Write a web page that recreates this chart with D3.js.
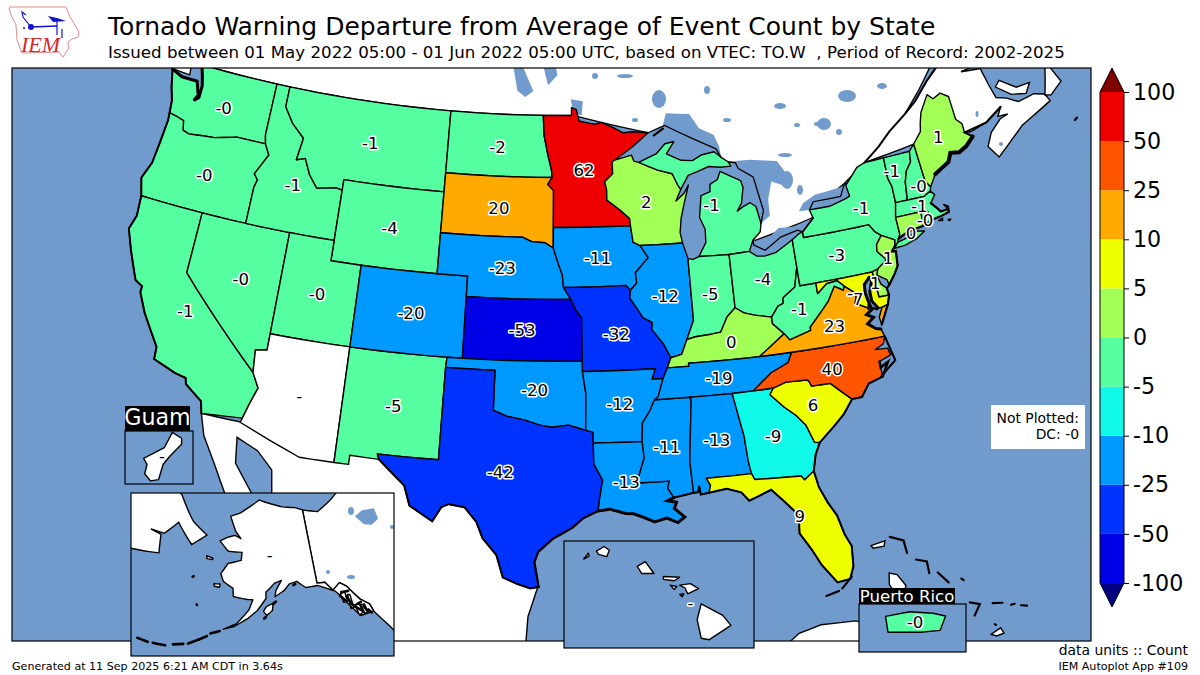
<!DOCTYPE html>
<html>
<head>
<meta charset="utf-8">
<script src="https://cdn.jsdelivr.net/npm/d3@7"></script>
<style>
html, body { margin: 0; padding: 0; background: #fff; }
svg { display: block; }
text { font-family: "DejaVu Sans", sans-serif; }
</style>
</head>
<body>
<div id="map"></div>
<script>
// values; null = no data (drawn white)
var stateCodes = ["WA","OR","CA","NV","ID","MT","WY","UT","AZ","NM","CO","ND","SD","NE","KS","OK","TX","MN","IA","MO","AR","LA","WI","IL","MS","MI","IN","OH","KY","WV","TN","AL","GA","FL","SC","NC","VA","PA","NY","VT","NH","ME","MA","RI","CT","NJ","DE","MD","DC","AK","HI","GU","PR"];
var stateValues = [-0.3,-0.3,-1,-0.3,-1,-1,-4,-0.3,null,-4.8,-20,-2,20,-23,-53,-20,-42,62,-11,-32,-12,-13,2,-12,-11,-1,-4.8,-4,0.3,-1,-19,-13,-9,9,6,40,23,-3,-1,-1,-0.3,1,-1,-0.3,0.3,1,1,7,null,null,null,null,-0.3];
var labelLon = [-120.4,-120.5,-119.5,-116.55,-114.45,-109.6,-107.5,-111.6,-111.65,-106,-105.5,-100.5,-100.2,-99.8,-98.4,-97.55,-99.45,-94.3,-93.5,-92.45,-92.4,-92.2,-90.05,-89.2,-89.75,-85.6,-86.3,-82.8,-85.3,-80.8,-86.3,-86.8,-83.5,-82.6,-80.9,-79.4,-78.8,-77.8,-75.6,-73,-71.5,-69.3,-71.8,-71.65,-72.75,-74.6,-75.75,-77,-77.45,-152.9,-156.3,144.78,-66.45];
var labelLat = [47.25,43.8,37.2,39.3,44.3,47,43,39.3,34.3,34.4,39,47.4,44.4,41.5,38.5,35.6,31.6,46.3,42,38.3,34.9,31.1,44.6,40,32.7,44.2,39.9,40.3,37.5,38.6,35.8,32.8,32.7,28.65,33.9,35.5,37.5,40.9,42.9,44.3,43.25,45.3,42.3,41.6,41.15,40.2,39.15,38.6,38.95,64.5,20.3,13.45,18.22];

// colour bar
var barTicks = ["-100","-50","-25","-10","-5","0","5","10","25","50","100"];
var barBounds = [-100,-50,-25,-10,-5,0,5,10,25,50,100];
var barColors = ["#00007f","#0000e6","#0033ff","#0099ff","#11f9e8","#55ffa1","#a1ff55","#eeff00","#ffaa00","#ff5500","#ee0000","#7f0000"];

// state outlines, lon,lat pairs, | starts another ring
var stateRings = {
WA:"-122.75,49 -117.03,49 -117.04,46.43 -116.9,46 -118.98,46 -119.3,45.93 -120.5,45.7 -121.2,45.65 -122.3,45.55 -122.75,45.65 -122.9,46.1 -123.4,46.2 -124,46.27 -124.1,46.9 -124.4,47.5 -124.72,48.38 -123.9,48.15 -122.75,48.15 -122.4,47.5 -122.6,47.2 -122.3,47.4 -122.3,48 -122.5,48.5",
OR:"-124,46.27 -123.4,46.2 -122.9,46.1 -122.75,45.65 -122.3,45.55 -121.2,45.65 -120.5,45.7 -119.3,45.93 -118.98,46 -116.9,46 -116.5,45.5 -117.2,44.45 -116.9,44.2 -117.03,43.8 -117.03,42 -124.2,42 -124.55,42.84 -124.15,43.7 -124.05,44.7 -123.95,45.9",
CA:"-124.2,42 -120,42 -120,39 -114.63,35 -114.15,34.3 -114.5,33.4 -114.72,32.72 -117.12,32.53 -117.3,33.1 -118.4,33.75 -118.5,34.03 -119.2,34.15 -120.6,34.55 -120.65,35.15 -121.9,36.6 -122.5,37.5 -122.5,37.8 -123,38 -123.8,39.3 -124.35,40.3 -124.1,41",
NV:"-120,42 -114.05,42 -114.05,36.2 -114.75,36.1 -114.63,35 -120,39",
ID:"-117.03,49 -116.05,49 -116.05,48 -115.3,47.25 -114.35,46.65 -114.55,45.55 -113.95,45.7 -113.45,44.95 -112.8,44.37 -111.5,44.55 -111.05,44.48 -111.05,42 -117.03,42 -117.03,43.8 -116.9,44.2 -117.2,44.45 -116.5,45.5 -116.9,46 -117.04,46.43",
MT:"-116.05,49 -104.05,49 -104.05,45 -111.05,45 -111.05,44.48 -111.5,44.55 -112.8,44.37 -113.45,44.95 -113.95,45.7 -114.55,45.55 -114.35,46.65 -115.3,47.25 -116.05,48",
WY:"-111.05,45 -104.05,45 -104.05,41 -111.05,41",
UT:"-114.05,42 -111.05,42 -111.05,41 -109.05,41 -109.05,37 -114.05,37",
AZ:"-114.05,37 -109.05,37 -109.05,31.33 -111.07,31.33 -114.8,32.5 -114.72,32.72 -114.5,33.4 -114.15,34.3 -114.63,35 -114.75,36.1 -114.05,36.2",
NM:"-109.05,37 -103,37 -103.04,36.5 -103.06,32 -106.62,32 -106.5,31.75 -108.2,31.78 -108.2,31.33 -109.05,31.33",
CO:"-109.05,41 -102.05,41 -102.05,37 -109.05,37",
ND:"-104.05,49 -97.23,49 -97.15,48 -96.85,47 -96.6,46.3 -96.56,45.94 -104.05,45.94",
SD:"-104.05,45.94 -96.56,45.94 -96.85,45.6 -96.45,45.3 -96.45,43.5 -96.45,42.5 -97,42.75 -97.9,42.8 -98.5,43 -104.05,43",
NE:"-104.05,43 -98.5,43 -97.9,42.8 -97,42.75 -96.45,42.5 -96.1,41.7 -95.85,41.2 -95.77,40.58 -95.3,40 -102.05,40 -102.05,41 -104.05,41",
KS:"-102.05,40 -95.3,40 -95,39.5 -94.62,39.1 -94.62,37 -102.05,37",
OK:"-103,37 -94.62,37 -94.62,36.5 -94.43,35.4 -94.48,33.64 -95.5,33.9 -96.5,33.8 -97.2,33.9 -98.1,34.13 -99.2,34.3 -100,34.56 -100,36.5 -103.04,36.5",
TX:"-103.04,36.5 -100,36.5 -100,34.56 -99.2,34.3 -98.1,34.13 -97.2,33.9 -96.5,33.8 -95.5,33.9 -94.48,33.64 -94.04,33.55 -94.04,33.02 -94.04,32 -93.55,31.2 -93.75,30.3 -93.85,29.7 -94.7,29.35 -95.3,28.9 -96.4,28.35 -97.2,27.7 -97.4,27.2 -97.15,25.97 -97.6,25.9 -98.3,26.1 -99.1,26.4 -99.5,27.5 -100.3,28.3 -100.7,29.1 -101.4,29.77 -102.3,29.87 -102.7,29.7 -103.15,28.98 -104.5,29.65 -104.9,30.6 -106.5,31.75 -106.62,32 -103.06,32",
MN:"-97.23,49 -95.15,49 -95.15,49.38 -94.8,49.3 -94.6,48.72 -93.5,48.55 -92.95,48.62 -92,48.3 -91.4,48.07 -90.75,48.1 -89.6,48 -90.9,47.3 -92.1,46.75 -92.29,46.66 -92.29,46.08 -92.87,45.7 -92.75,45.3 -92.76,44.8 -91.9,44.3 -91.25,43.85 -91.22,43.5 -96.45,43.5 -96.45,45.3 -96.85,45.6 -96.56,45.94 -96.6,46.3 -96.85,47 -97.15,48",
IA:"-96.45,43.5 -91.22,43.5 -91.1,42.7 -90.64,42.51 -90.15,41.9 -91.05,41.2 -91,40.7 -91.42,40.38 -91.73,40.61 -95.77,40.58 -95.85,41.2 -96.1,41.7 -96.45,42.5",
MO:"-95.77,40.58 -91.73,40.61 -91.42,40.38 -91.5,40 -90.7,39 -90.15,38.75 -90.2,38.4 -89.55,37.7 -89.13,36.98 -89.4,36.5 -89.7,36 -90.38,36 -90.15,36.5 -94.62,36.5 -94.62,39.1 -95,39.5 -95.3,40",
AR:"-94.62,36.5 -90.15,36.5 -90.38,36 -89.7,36 -90.07,35.13 -90.3,35 -90.6,34.5 -91.1,33.9 -91.17,33 -94.04,33.02 -94.04,33.55 -94.48,33.64 -94.43,35.4",
LA:"-94.04,33.02 -91.17,33 -91.1,32.2 -91.6,31 -89.73,31 -89.85,30.67 -89.53,30.18 -89.9,30.05 -89.4,29.95 -89.55,29.65 -89,29.2 -89.4,28.95 -90,29.2 -90.7,29.05 -91.3,29.3 -91.85,29.5 -92.3,29.53 -93.2,29.77 -93.85,29.7 -93.75,30.3 -93.55,31.2 -94.04,32",
WI:"-92.29,46.66 -92.1,46.75 -90.9,46.95 -90.75,46.65 -90.4,46.57 -89.1,46.13 -88.1,45.9 -87.8,45.35 -87.6,45.1 -88,44.55 -87.4,44.9 -87.05,45.28 -87.5,44.3 -87.75,43.7 -87.9,43 -87.8,42.49 -90.64,42.51 -91.1,42.7 -91.22,43.5 -91.25,43.85 -91.9,44.3 -92.76,44.8 -92.75,45.3 -92.87,45.7 -92.29,46.08",
IL:"-90.64,42.51 -87.8,42.49 -87.53,41.71 -87.53,38.7 -88.05,37.8 -88.45,37.1 -89.13,36.98 -89.55,37.7 -90.2,38.4 -90.15,38.75 -90.7,39 -91.5,40 -91.42,40.38 -91,40.7 -91.05,41.2 -90.15,41.9",
MS:"-90.3,35 -88.2,35 -88.1,34.9 -88.47,31.9 -88.4,30.35 -89.53,30.18 -89.85,30.67 -89.73,31 -91.6,31 -91.1,32.2 -91.17,33 -91.1,33.9 -90.6,34.5",
MI:"-86.8,41.76 -86.25,42.4 -86.2,43.05 -86.5,43.65 -86.25,44.7 -85.6,44.85 -85.55,45.2 -85,45.4 -84.75,45.78 -84.1,45.5 -83.4,45.2 -83.3,44.85 -83.55,44.1 -83.9,43.75 -83.4,43.95 -82.95,44.07 -82.6,43.85 -82.42,43 -82.55,42.6 -83.1,42.25 -83.45,41.73 -84.8,41.7|-90.4,46.57 -89.1,46.95 -88.45,47.4 -87.8,47.47 -88.4,46.9 -87.4,46.52 -86.6,46.45 -85.95,46.68 -85,46.77 -84.55,46.45 -84.1,46.2 -83.95,45.97 -84.7,45.98 -85.5,46.08 -86.3,45.9 -87,45.75 -87.6,45.1 -87.8,45.35 -88.1,45.9 -89.1,46.13",
IN:"-87.53,41.71 -87.2,41.65 -86.8,41.76 -84.8,41.7 -84.82,39.1 -85.4,38.7 -85.9,38 -86.5,37.95 -87.5,37.9 -88.05,37.8 -87.53,38.7",
OH:"-84.8,41.7 -83.45,41.73 -83,41.45 -82.5,41.4 -81.7,41.5 -80.52,41.98 -80.52,40.64 -80.85,39.7 -81.7,39.27 -81.75,39 -82.1,38.9 -82.6,38.42 -83.65,38.63 -84.3,38.8 -84.82,39.1",
KY:"-89.13,36.98 -88.45,37.1 -88.05,37.8 -87.5,37.9 -86.5,37.95 -85.9,38 -85.4,38.7 -84.82,39.1 -84.3,38.8 -83.65,38.63 -82.6,38.42 -82.6,38.1 -81.97,37.54 -83.68,36.6 -88.07,36.65 -88.07,36.5 -89.4,36.5",
WV:"-82.6,38.42 -82.1,38.9 -81.75,39 -81.7,39.27 -80.85,39.7 -80.52,40.64 -80.52,39.72 -79.48,39.72 -79.48,39.2 -78.8,39.6 -78.1,39.65 -77.72,39.32 -77.83,39.13 -78.35,39.4 -78.87,38.77 -79.3,38.42 -80.3,37.65 -80.3,37.5 -81.68,37.2 -81.97,37.54 -82.6,38.1",
TN:"-89.4,36.5 -88.07,36.5 -88.07,36.65 -83.68,36.6 -81.68,36.59 -82,36.12 -83.1,35.75 -84.32,34.99 -85.6,34.98 -88.2,35 -90.3,35 -90.07,35.13 -89.7,36",
AL:"-88.2,35 -85.6,34.98 -85.18,32.87 -85.1,31.6 -85,31 -87.6,31 -87.4,30.65 -87.52,30.28 -88,30.23 -88.05,30.65 -88.15,30.35 -88.4,30.35 -88.47,31.9 -88.1,34.9",
GA:"-85.6,34.98 -84.32,34.99 -83.1,35 -83.35,34.7 -82.6,34 -81.95,33.5 -81.5,33 -81.15,32.1 -80.85,32.05 -81.2,31.5 -81.45,30.72 -82.05,30.36 -82.2,30.57 -84.86,30.7 -85,31 -85.1,31.6 -85.18,32.87",
FL:"-87.6,31 -85,31 -84.86,30.7 -82.2,30.57 -82.05,30.36 -81.45,30.72 -81.3,29.9 -80.95,29.1 -80.55,28.4 -80.3,27.4 -80.03,26.8 -80.12,25.8 -80.4,25.2 -81.1,25.13 -81.8,26.1 -82.2,26.9 -82.75,27.8 -82.65,28.7 -83.4,29.5 -84,30.1 -85.3,29.7 -85.7,30.15 -86.5,30.4 -87.52,30.28 -87.4,30.65",
SC:"-83.1,35 -82.3,35.2 -81.04,35.15 -80.93,35.1 -80.8,34.82 -79.67,34.8 -78.55,33.86 -79.2,33.2 -79.9,32.7 -80.85,32.05 -81.15,32.1 -81.5,33 -81.95,33.5 -82.6,34 -83.35,34.7",
NC:"-81.68,36.59 -75.87,36.55 -76.05,36.2 -76.6,36 -75.85,35.95 -75.75,35.6 -76.5,35.4 -76.5,35.1 -76.5,34.65 -77.4,34.45 -77.95,33.87 -78.55,33.86 -79.67,34.8 -80.8,34.82 -80.93,35.1 -81.04,35.15 -82.3,35.2 -83.1,35 -84.32,34.99 -83.1,35.75 -82,36.12",
VA:"-83.68,36.6 -81.97,37.54 -81.68,37.2 -80.3,37.5 -80.3,37.65 -79.3,38.42 -78.87,38.77 -78.35,39.4 -77.83,39.13 -77.72,39.32 -77.05,38.85 -77.25,38.4 -76.3,37.95 -76.7,37.75 -76.3,37.55 -76.75,37.3 -76.3,37 -76,36.92 -75.87,36.55 -81.68,36.59|-75.65,37.95 -75.25,38.03 -75.9,37.12 -75.95,37.5",
PA:"-80.52,41.98 -80.07,42.2 -79.76,42.27 -79.76,42 -75.35,42 -75.05,41.6 -74.7,41.36 -75.13,40.97 -75.2,40.65 -74.72,40.15 -75.4,39.8 -75.79,39.72 -80.52,39.72",
NY:"-79.76,42.27 -78.9,42.85 -79.05,43.27 -77.6,43.27 -76.5,43.47 -76.2,43.55 -76.3,44.1 -75.3,44.85 -74.7,45 -73.35,45.01 -73.4,44 -73.25,43.55 -73.27,42.75 -73.5,42.05 -73.49,41.2 -73.65,41 -73.8,40.8 -74,40.7 -73.9,41 -74.7,41.36 -75.05,41.6 -75.35,42 -79.76,42|-74.03,40.6 -73.75,40.85 -73.1,40.95 -72.3,41.15 -71.87,41.07 -72.5,40.8 -73.3,40.63",
VT:"-73.35,45.01 -71.5,45.01 -71.6,44.5 -72.05,44.1 -72.3,43.6 -72.46,42.73 -73.27,42.75 -73.25,43.55 -73.4,44",
NH:"-71.5,45.01 -71.08,45.3 -70.98,43.4 -70.72,43.07 -70.82,42.87 -71.3,42.7 -72.46,42.73 -72.3,43.6 -72.05,44.1 -71.6,44.5",
ME:"-71.08,45.3 -70.4,45.8 -70.25,46.2 -70,46.7 -69.23,47.46 -68.9,47.18 -68.3,47.35 -67.79,47.07 -67.78,45.9 -67.45,45.6 -67.45,45.15 -67,44.85 -67.6,44.5 -68.2,44.3 -68.8,44.4 -69.1,44 -69.8,43.75 -70.2,43.6 -70.72,43.07 -70.98,43.4",
MA:"-73.27,42.75 -71.3,42.7 -70.82,42.87 -70.6,42.65 -71,42.3 -70.65,41.95 -70.5,41.78 -70,41.8 -70.2,42.07 -69.95,41.95 -70,41.65 -70.65,41.55 -71.2,41.5 -71.38,42.02 -71.8,42.02 -73.5,42.05|-70.8,41.38 -70.5,41.45 -70.55,41.33|-70.2,41.3 -70,41.3 -70.1,41.23",
RI:"-71.8,42.02 -71.38,42.02 -71.2,41.5 -71.5,41.37 -71.85,41.32",
CT:"-73.5,42.05 -71.8,42.02 -71.85,41.32 -72.9,41.25 -73.65,41 -73.49,41.2",
NJ:"-74.7,41.36 -73.9,41 -74,40.7 -74.25,40.48 -74,40.45 -74.1,39.75 -74.4,39.4 -74.9,38.93 -74.97,39.2 -75.5,39.5 -75.55,39.63 -75.4,39.8 -74.72,40.15 -75.2,40.65 -75.13,40.97",
DE:"-75.79,39.72 -75.4,39.8 -75.55,39.5 -75.4,39.05 -75.1,38.8 -75.05,38.45 -75.7,38.46",
MD:"-79.48,39.72 -75.79,39.72 -75.7,38.46 -75.05,38.45 -75.25,38.03 -75.65,37.95 -75.9,37.95 -76.2,38.35 -76.2,38.8 -76,39.2 -76.05,39.5 -76.45,39.2 -76.5,38.8 -76.4,38.3 -76.3,37.95 -77.25,38.4 -77.05,38.85 -77.72,39.32 -78.1,39.65 -78.8,39.6 -79.48,39.2",
DC:"-77.12,38.93 -77.04,39 -76.91,38.89 -77.04,38.79",
AK:"-141,69.65 -143.5,70.1 -148,70.4 -152,70.85 -156.6,71.35 -160,70.4 -163,69.5 -166.2,68.9 -164.5,67.7 -163.7,67.1 -161.8,66.3 -163.8,66.6 -166,66.2 -168,65.6 -165,64.5 -161,64.6 -161,63.6 -164.5,63 -166,61.6 -165,60.7 -162.3,60 -162,59 -158.5,58.8 -157.2,58.8 -158,57.5 -160.5,55.7 -163.3,54.8 -161,55.3 -158,56.5 -156,57.5 -154,59 -154,59.8 -151.8,60.9 -150,61.2 -151.5,60 -151.8,59.2 -149.5,59.9 -148,60.7 -146,60.9 -144,60 -141,60 -139.5,59.6 -137,58.8 -136,58 -134.5,56.5 -133,55 -130,55 -130.3,56 -132,57 -134,59 -135.5,59.7 -137.5,59 -139,60.2 -141,60.3|-154.6,57.4 -153.9,58 -152.3,58.4 -152.5,57.5 -153.8,56.9|-170.8,63.4 -169,63.3 -168.9,63.1 -170.5,63.05|-167.3,60.2 -165.7,60.3 -165.7,59.9 -167,59.9|-136,58.3 -134.9,58.4 -134.8,57.2 -135.8,57.2|-134.4,58 -133.9,57.9 -133.9,56.2 -134.6,56.2|-133.5,56.5 -132.5,56.4 -132.2,55.3 -133.2,55.1|-132.2,56.3 -131.4,56.2 -131.2,55.1 -132,55.1",
HI:"-155.9,20.25 -155.1,19.85 -154.8,19.5 -155.6,19 -155.9,19.05 -156.05,19.7|-156.7,20.9 -156.3,20.95 -156,20.78 -156.4,20.6 -156.5,20.8|-158.27,21.55 -157.97,21.71 -157.65,21.3 -158.1,21.3|-157.3,21.2 -156.7,21.17 -156.9,21.05 -157.3,21.1|-157.05,20.9 -156.8,20.85 -156.9,20.75|-156.7,20.58 -156.55,20.6 -156.6,20.5|-159.78,22.07 -159.5,22.23 -159.3,22.1 -159.4,21.88 -159.7,21.96|-160.25,21.8 -160.08,22 -160.05,21.9",
GU:"144.95,13.6 144.87,13.65 144.8,13.52 144.7,13.47 144.62,13.43 144.65,13.38 144.63,13.3 144.68,13.24 144.75,13.25 144.79,13.38 144.85,13.45 144.95,13.55",
PR:"-67.27,18.37 -66.6,18.49 -65.95,18.45 -65.6,18.38 -65.75,18 -66.3,17.95 -67.2,17.95"
};

var landRings = [
"-122.75,49 -123.2,49.35 -125,50 -127.5,51 -128.5,52.5 -130,55 -135,62 -60,62 -60,50.2 -64,50.3 -66.4,50.2 -67.4,49.3 -68.5,48.7 -69.7,47.8 -71.1,46.85 -70.2,47.3 -69,48.1 -67.8,48.75 -66,49.2 -64.3,48.9 -64.3,48.4 -65.6,48.1 -66.4,48.05 -65,47.9 -64.8,47 -64.6,46.3 -63.9,46.1 -63.2,45.75 -62,45.85 -61.3,45.65 -61.1,45.25 -63.5,44.6 -64.3,44.2 -65.7,43.5 -66.2,44.15 -65.7,44.75 -64.8,45.25 -64.2,45.35 -64.9,45.4 -64.5,45.8 -65.8,45.3 -67,45.1 -67.45,45.15 -71,45.3 -74.7,45 -76.4,44.2 -78,43.6 -79,42.85 -83.1,42.2 -82.5,43 -84.4,46.3 -89.6,48 -95,49",
"-125.7,48.8 -124.7,48.4 -123.4,48.35 -123.5,48.95 -125,49.8 -127.5,50.7 -128.4,50.6",
"-61.3,45.6 -60.9,46.3 -60.5,47.05 -60.3,46.85 -59.9,45.95 -60.9,45.5",
"-64.4,46.8 -64,47.05 -63,46.45 -62,46.45 -62.5,46 -63.5,46.2",
"-117.12,32.53 -116.7,31.5 -115.8,30.3 -114.2,28 -115,27.8 -112.2,25.5 -110,23 -109.5,23.2 -110.3,24.2 -111.5,26 -112.8,28 -113.2,29 -114.6,30.5 -114.8,31.75 -113.5,31.3 -112.5,30.5 -112.2,29 -111,28 -109.3,26.5 -108.2,25 -106,22.7 -105.3,21.5 -105.5,20 -104,19 -100,17 -95,16 -92,14.5 -90,16 -92,18.5 -94.5,18.1 -96,19 -97.4,21.5 -97.8,23 -97.7,24.5 -97.2,25.97 -100,32 -110,32.5",
"-85,21.85 -83.5,22.9 -82.3,23.17 -80.5,23.1 -77.5,21.9 -75,20.7 -74.2,20.2 -77.7,19.85 -77.2,20.6 -78.5,21 -81,22.1 -83,22.1 -84,21.8",
"-78.3,25.15 -77.9,25 -77.55,24.4 -77.75,23.85 -78.2,24.1 -78.4,24.6",
"-79,26.65 -78.2,26.75 -78.3,26.5 -78.9,26.5",
"-73.75,21.1 -73.2,21.3 -73.1,21 -73.5,20.95"
];
// small islands and inlets drawn as heavy strokes
var heavyLines = [
"-89.2,47.85 -88.5,48.15","-80.3,25.3 -80.9,24.8","-81.1,24.7 -81.8,24.55","-75.87,36.55 -75.55,35.3 -76.3,34.85 -76.6,34.65",
"-77.9,26.9 -77.2,26.6 -77.15,25.95","-76.75,25.55 -76.2,25.35 -76.2,24.75","-75.75,24.7 -75.3,24.1","-74.6,24.15 -74.5,24.05","-77,23.9 -76.7,23.85",
"-74.45,22.9 -73.96,22.7 -74.36,22.2","-73.3,22.6 -72.8,22.5","-72.4,22.3 -72.2,22.3","-71.9,22.15 -71.6,22.05","-73.45,21.55 -73.4,21.5",
"-60,43.93 -59.8,44","-76.2,38 -76,37.9","-76.45,38.2 -76.5,38",
"-67.95,18.1 -67.85,18.1"
];
// coast that reads darker in the picture: [width, line]
var coastLines = [
[2,"-124.72,48.38 -124.4,47.5 -124.1,46.9 -124,46.27 -123.95,45.9 -124.05,44.7 -124.15,43.7 -124.55,42.84 -124.2,42 -124.1,41 -124.35,40.3 -123.8,39.3 -123,38 -122.5,37.8 -122.5,37.5 -121.9,36.6 -120.65,35.15 -120.6,34.55 -119.2,34.15 -118.5,34.03 -118.4,33.75 -117.3,33.1 -117.12,32.53"],
[3,"-124.72,48.38 -123.9,48.15 -122.75,48.15 -122.4,47.5 -122.6,47.2 -122.3,47.4 -122.3,48 -122.5,48.5 -122.75,49"],
[2.2,"-93.85,29.7 -94.7,29.35 -95.3,28.9 -96.4,28.35 -97.2,27.7 -97.4,27.2 -97.15,25.97"],
[2,"-97.15,25.97 -97.6,25.9 -98.3,26.1 -99.1,26.4 -99.5,27.5 -100.3,28.3 -100.7,29.1 -101.4,29.77 -102.3,29.87 -102.7,29.7 -103.15,28.98 -104.5,29.65 -104.9,30.6 -106.5,31.75"],
[3,"-93.85,29.7 -93.2,29.77 -92.3,29.53 -91.85,29.5 -91.3,29.3 -90.7,29.05 -90,29.2 -89.4,28.95 -89,29.2 -89.55,29.65 -89.4,29.95 -89.9,30.05 -89.53,30.18"],
[2,"-89.53,30.18 -88.4,30.35 -88.15,30.35 -88.05,30.65 -88,30.23 -87.52,30.28 -86.5,30.4 -85.7,30.15 -85.3,29.7 -84,30.1 -83.4,29.5 -82.65,28.7 -82.75,27.8 -82.2,26.9 -81.8,26.1 -81.1,25.13 -80.4,25.2 -80.12,25.8 -80.03,26.8 -80.3,27.4 -80.55,28.4 -80.95,29.1 -81.3,29.9 -81.45,30.72 -81.2,31.5 -80.85,32.05 -79.9,32.7 -79.2,33.2 -78.55,33.86 -77.95,33.87 -77.4,34.45 -76.5,34.65"],
[3,"-76.3,37.95 -76.7,37.75 -76.3,37.55 -76.75,37.3 -76.3,37 -76,36.92"],
[3,"-76.05,39.5 -76.45,39.2 -76.5,38.8 -76.4,38.3 -76.3,37.95"],
[3,"-76,39.2 -76.2,38.8 -76.2,38.35 -75.9,37.95"],
[2.5,"-76.5,35.4 -76.5,35.1 -76,35.3 -76.5,34.65"],
[4,"-70.2,43.6 -69.8,43.75 -69.1,44 -68.8,44.4 -68.2,44.3 -67.6,44.5 -67,44.85"],
[2,"-67,44.85 -67.45,45.15 -65.8,45.3 -64.5,45.8"],
[2.2,"-71,42.3 -70.65,41.95 -70.5,41.78 -70,41.8 -69.95,41.95 -70,41.65 -70.65,41.55 -71.2,41.5 -71.85,41.32 -72.9,41.25 -73.65,41"],
[2.2,"-74,40.7 -74.25,40.48 -74,40.45 -74.1,39.75 -74.4,39.4 -74.9,38.93 -75.1,38.8 -75.05,38.45 -75.25,38.03 -75.9,37.12"],
[2,"-74.7,45 -73.5,45.6 -72.5,46.2 -71.2,46.8 -70.2,47.3 -69,48.1 -67.8,48.75"]
];
var alaskaHeavy = ["-180,50.9 -177.8,50.9","-176.8,51 -174.3,51.2","-172.9,51.6 -170.9,52","-170,52.2 -168,53","-168,53 -166.5,53.6","-165.9,54 -164,54.5",
"-170.2,57.2 -170.1,57.15","-172.9,60.4 -172.7,60.5","-154.4,56.5 -154,56.7","-152.3,58.3 -151.6,58.6","-147,60.5 -146.5,60.6","-136.2,58.1 -135.2,57.3","-134.8,57.8 -134,56.6","-133.6,56.3 -132.3,55.5","-131.7,56 -131.3,55.3","-133,56.5 -132,56.6","-135.7,58.5 -134,58.4","-130.5,54.9 -131,55.4"];
var alaskaLand = [
"-141,69.65 -136,69 -130,70 -120,72 -100,75 -100,50 -115,48 -127,51 -128,52.5 -130,55 -130.3,56 -132,57 -134,59 -135.5,59.7 -137.5,59 -139,60.2 -141,60.3",
"-172.3,65.9 -177.6,67 -184.6,69.5 -200,72 -200,60.5 -190,60.6 -183.3,61.7 -185,63.9 -188.3,63.9 -184.3,64.2 -181.8,66.2 -175.8,64.2"
];
var alaskaLakes = ["-125,66.8 -122,67.1 -118.5,66.6 -119,65.2 -121.5,64.9 -123.5,65.4"];

// big lakes, lon,lat rings
var lakeRings = [
"-92.1,46.75 -90.9,46.95 -90.75,46.65 -90.4,46.57 -89.1,46.95 -88.45,47.4 -87.8,47.47 -88.4,46.9 -87.4,46.52 -86.6,46.45 -85.95,46.68 -85,46.77 -84.55,46.45 -84.6,47 -84.9,47.6 -85.9,48 -86.5,48.75 -88.2,48.9 -88.5,48.3 -89.6,48 -90.9,47.3",
"-84.75,45.78 -84.1,45.5 -83.4,45.2 -83.3,44.85 -83.55,44.1 -83.9,43.75 -83.4,43.95 -82.95,44.07 -82.6,43.85 -82.42,43 -81.75,43.3 -81.7,44.1 -81.3,44.95 -80.1,44.5 -79.9,44.85 -80.7,45.9 -82.5,46.15 -83.9,46.2 -84.1,46.2 -83.95,45.97 -84.7,45.98",
"-83.45,41.73 -83,41.45 -82.5,41.4 -81.7,41.5 -80.52,41.98 -79.76,42.27 -78.9,42.85 -80.3,42.6 -81.3,42.65 -82.5,42 -83.1,42.25",
"-79.76,43.3 -79.05,43.27 -77.6,43.27 -76.5,43.47 -76.2,43.55 -76.3,44.1 -77,44.05 -78.5,43.95 -79.4,43.65",
"-99.6,51.5 -98.9,51.5 -98,50.2 -98.6,49.9 -99.2,50.2",
"-97.6,53.2 -96.8,53.2 -96.2,51 -96.9,50.5 -97.3,51.5",
"-95.2,49.8 -94.3,49.7 -94.4,49 -95,49.1"
];
// minor lakes: centre x, centre y, half width, half height
var pondX = [595,625,635,659,780,727,797,817,785,787,800,824,839,847,882,977,1001,707];
var pondY = [76,76,120,99,106,120,125,124,155,180,190,124,132,96,86,114,144,90];
var pondRx = [3,8,3,7,6,4,3,3,7,6,3,7,3,9,5,1.5,2,3];
var pondRy = [3,2,2,9,3,2,2,2,2,9,5,6,3,6,3,3,2,4];
var akPondX = [351,392,328,351];
var akPondY = [511,527,572,577];
var akPondRx = [3,2,2,4];
var akPondRy = [4,2,2,2];

function ringOf(s) {
    return s.split(" ").map(function (p) {
        return p.split(",").map(Number);
    });
}
// keep parallels curved: add points on long edges
function densify(pts, closed) {
    var out = [], i, j, a, b, n, stop = closed ? pts.length : pts.length - 1;
    for (i = 0; i < stop; i += 1) {
        a = pts[i];
        b = pts[(i + 1) % pts.length];
        n = Math.ceil(Math.max(Math.abs(b[0] - a[0]), Math.abs(b[1] - a[1])));
        for (j = 0; j < n; j += 1) {
            out.push([a[0] + (b[0] - a[0]) * j / n, a[1] + (b[1] - a[1]) * j / n]);
        }
    }
    out.push(closed ? out[0] : pts[pts.length - 1]);
    return out;
}
function polygon(s) {
    var coords = densify(ringOf(s), true),
        f = {type: "Polygon", coordinates: [coords]};
    if (d3.geoArea(f) > 2 * Math.PI) {
        f.coordinates[0] = coords.slice().reverse();
    }
    return f;
}
function multi(s) {
    return {type: "GeometryCollection", geometries: s.split("|").map(polygon)};
}
function line(s) {
    return {type: "LineString", coordinates: densify(ringOf(s), false)};
}

var water = "#729bcd",
    width = 1200,
    height = 675,
    labelSize = 16.6;

var colorOf = d3.scaleThreshold().domain(barBounds).range(barColors);

var conus = d3.geoConicEqualArea().parallels([29.5, 45.5]).rotate([96, 0]).center([0, 23]).scale(1170).translate([560, 647]).precision(0.2),
    alaska = d3.geoConicEqualArea().parallels([55, 65]).rotate([154, 0]).center([0, 60]).scale(458).translate([266, 590.5]),
    hawaii = d3.geoMercator().center([-157.5, 20.8]).scale(1547).translate([658, 588]),
    guam = d3.geoMercator().center([144.78, 13.45]).scale(6600).translate([162, 456]),
    puertoRico = d3.geoMercator().center([-66.45, 18.22]).scale(2060).translate([915, 622]);

var svg = d3.select("#map").append("svg").attr("width", width).attr("height", height);
var defs = svg.append("defs");

function frame(id, x, y, w, h) {
    defs.append("clipPath").attr("id", id).append("rect").attr("x", x).attr("y", y).attr("width", w).attr("height", h);
    var g = svg.append("g");
    g.append("rect").attr("x", x).attr("y", y).attr("width", w).attr("height", h).attr("fill", water);
    return g.append("g").attr("clip-path", "url(#" + id + ")");
}
function border(x, y, w, h) {
    svg.append("rect").attr("x", x).attr("y", y).attr("width", w).attr("height", h)
        .attr("fill", "none").attr("stroke", "#000").attr("stroke-width", 1.2);
}
function drawStates(g, path, codes) {
    g.selectAll("path.state").data(codes).enter().append("path")
        .attr("class", "state")
        .attr("d", function (d) { return path(multi(stateRings[d])); })
        .attr("fill", function (d) {
            var v = stateValues[stateCodes.indexOf(d)];
            return v === null ? "#fff" : colorOf(v);
        })
        .attr("stroke", "#000").attr("stroke-width", 1.4).attr("stroke-linejoin", "round");
}
function drawLand(g, path, rings, stroke) {
    rings.forEach(function (r) {
        g.append("path").attr("d", path(polygon(r))).attr("fill", "#fff")
            .attr("stroke", stroke).attr("stroke-width", 1.4);
    });
}
function drawHeavy(g, path, lines, w) {
    lines.forEach(function (l) {
        g.append("path").attr("d", path(line(l))).attr("fill", "none")
            .attr("stroke", "#000").attr("stroke-width", w).attr("stroke-linecap", "round");
    });
}
function drawPonds(g, xs, ys, rxs, rys) {
    g.selectAll("ellipse").data(xs).enter().append("ellipse")
        .attr("cx", function (d) { return d; })
        .attr("cy", function (d, i) { return ys[i]; })
        .attr("rx", function (d, i) { return rxs[i]; })
        .attr("ry", function (d, i) { return rys[i]; })
        .attr("fill", water);
}

// main map
var mainG = frame("clipMain", 12, 68, 1079, 573),
    mainPath = d3.geoPath(conus);
drawLand(mainG, mainPath, landRings, "#000");
lakeRings.forEach(function (r) {
    mainG.append("path").attr("d", mainPath(polygon(r))).attr("fill", water);
});
drawPonds(mainG, pondX, pondY, pondRx, pondRy);
drawStates(mainG, mainPath, stateCodes.filter(function (c) {
    return ["AK", "HI", "GU", "PR", "DC"].indexOf(c) < 0;
}));
drawHeavy(mainG, mainPath, lakeLines(), 1.3);
drawHeavy(mainG, mainPath, heavyLines, 2.2);
coastLines.forEach(function (c) {
    drawHeavy(mainG, mainPath, [c[1]], c[0]);
});
border(12, 68, 1079, 573);

// boundaries that run through the lakes
function lakeLines() {
    return [
        "-89.6,48 -88.37,48.3 -84.85,46.9 -84.55,46.45",
        "-84.1,46.2 -83.6,46.1 -83.45,45.8 -82.5,45.3 -82.13,43.6 -82.42,43",
        "-83.1,42.25 -83.1,42 -82.4,41.68 -81.25,42.2 -80.07,42.4 -79.76,42.27 -78.9,42.85",
        "-79.05,43.27 -78.7,43.63 -76.8,43.63 -76.45,44.1 -76.3,44.2"
    ];
}

// insets
var akG = frame("clipAk", 131, 493, 263, 163),
    akPath = d3.geoPath(alaska);
drawLand(akG, akPath, alaskaLand, "#000");
alaskaLakes.forEach(function (r) {
    akG.append("path").attr("d", akPath(polygon(r))).attr("fill", water);
});
drawPonds(akG, akPondX, akPondY, akPondRx, akPondRy);
drawStates(akG, akPath, ["AK"]);
drawHeavy(akG, akPath, alaskaHeavy, 2.6);
border(131, 493, 263, 163);

var hiG = frame("clipHi", 564, 541, 190, 107);
drawStates(hiG, d3.geoPath(hawaii), ["HI"]);
border(564, 541, 190, 107);

var guG = frame("clipGu", 125, 431, 68, 53);
drawStates(guG, d3.geoPath(guam), ["GU"]);
border(125, 431, 68, 53);

var prG = frame("clipPr", 859, 604, 107, 48);
drawStates(prG, d3.geoPath(puertoRico), ["PR"]);
border(859, 604, 107, 48);

// inset captions
svg.append("rect").attr("x", 125).attr("y", 406).attr("width", 65).attr("height", 25).attr("fill", "#000");
svg.append("text").attr("x", 157.5).attr("y", 425).attr("text-anchor", "middle")
    .attr("font-size", 22.2).attr("fill", "#fff").text("Guam");
svg.append("rect").attr("x", 859).attr("y", 588).attr("width", 96).attr("height", 16).attr("fill", "#000");
svg.append("text").attr("x", 907).attr("y", 601.5).attr("text-anchor", "middle")
    .attr("font-size", 16.6).attr("fill", "#fff").text("Puerto Rico");

// state labels
function projectionFor(code) {
    return code === "AK" ? alaska : code === "HI" ? hawaii : code === "GU" ? guam : code === "PR" ? puertoRico : conus;
}
function labelText(v) {
    if (v === null) {
        return "-";
    }
    return (v < 0 ? "-" : "") + Math.round(Math.abs(v));
}
svg.append("g").selectAll("text").data(stateCodes).enter().append("text")
    .attr("transform", function (d, i) {
        var p = projectionFor(d)([labelLon[i], labelLat[i]]);
        return "translate(" + p[0] + "," + p[1] + ")";
    })
    .attr("text-anchor", "middle").attr("dy", "0.37em")
    .attr("font-size", labelSize).attr("fill", "#000")
    .attr("stroke", "#fff").attr("stroke-width", 3).attr("stroke-linejoin", "round")
    .attr("paint-order", "stroke")
    .text(function (d, i) { return labelText(stateValues[i]); });

// colour bar, even spacing per class
var barY = d3.scalePoint().domain(barTicks).range([583, 92]),
    barG = svg.append("g"),
    barX = 1100,
    barW = 24;
barColors.slice(1, -1).forEach(function (c, i) {
    barG.append("rect").attr("x", barX).attr("width", barW)
        .attr("y", barY(barTicks[i + 1])).attr("height", barY(barTicks[i]) - barY(barTicks[i + 1]))
        .attr("fill", c);
});
barG.append("path").attr("d", d3.line()([[barX, 92], [barX + barW / 2, 68], [barX + barW, 92]])).attr("fill", barColors[11]);
barG.append("path").attr("d", d3.line()([[barX, 583], [barX + barW / 2, 607], [barX + barW, 583]])).attr("fill", barColors[0]);
barG.append("path")
    .attr("d", d3.line()([[barX, 92], [barX + barW / 2, 68], [barX + barW, 92], [barX + barW, 583], [barX + barW / 2, 607], [barX, 583]]) + "Z")
    .attr("fill", "none").attr("stroke", "#000").attr("stroke-width", 1);
var axisG = svg.append("g").attr("transform", "translate(" + (barX + barW) + ",0)")
    .call(d3.axisRight(barY).tickSize(5).tickPadding(4));
axisG.select(".domain").remove();
axisG.selectAll("text").attr("font-size", 22.2).attr("font-family", "DejaVu Sans").attr("fill", "#000");
axisG.selectAll("line").attr("stroke", "#000");

// not plotted box
svg.append("rect").attr("x", 991).attr("y", 405).attr("width", 94).attr("height", 44).attr("fill", "#fff");
svg.append("text").attr("x", 1079).attr("y", 423).attr("text-anchor", "end").attr("font-size", 13.9).text("Not Plotted:");
svg.append("text").attr("x", 1079).attr("y", 439).attr("text-anchor", "end").attr("font-size", 13.9).text("DC: -0");

// titles
svg.append("text").attr("x", 108).attr("y", 35).attr("font-size", 25).text("Tornado Warning Departure from Average of Event Count by State");
svg.append("text").attr("x", 108).attr("y", 58).attr("font-size", 16.66).style("white-space", "pre")
    .text("Issued between 01 May 2022 05:00 - 01 Jun 2022 05:00 UTC, based on VTEC: TO.W  , Period of Record: 2002-2025");
svg.append("text").attr("x", 12).attr("y", 670).attr("font-size", 11.1).text("Generated at 11 Sep 2025 6:21 AM CDT in 3.64s");
svg.append("text").attr("x", 1188).attr("y", 655).attr("text-anchor", "end").attr("font-size", 13.9).text("data units :: Count");
svg.append("text").attr("x", 1188).attr("y", 670).attr("text-anchor", "end").attr("font-size", 11.1).text("IEM Autoplot App #109");

// logo
var logo = svg.append("g"),
    logoBlue = "#1414cc";
logo.append("path")
    .attr("d", d3.line()([[10, 7], [66, 7], [69, 15], [75, 25], [79, 32], [78, 37], [72, 39], [68, 42], [69, 48], [63, 57], [59, 52], [22, 53], [17, 40], [16, 25], [11, 15], [9, 8]]) + "Z")
    .attr("fill", "#fff").attr("stroke", "#e88a8a").attr("stroke-width", 1);
logo.append("path").attr("d", d3.line()([[31, 27], [57, 26]])).attr("fill", "none").attr("stroke", logoBlue).attr("stroke-width", 1.6);
logo.append("path").attr("d", d3.line()([[57, 21], [57, 35]])).attr("fill", "none").attr("stroke", logoBlue).attr("stroke-width", 1.2);
logo.append("path").attr("d", d3.line()([[62, 29], [62, 38]])).attr("fill", "none").attr("stroke", logoBlue).attr("stroke-width", 1.2);
logo.append("path").attr("d", d3.line()([[31, 27], [23, 17], [22, 12], [26, 15]])).attr("fill", "none").attr("stroke", logoBlue).attr("stroke-width", 1.2);
logo.append("path").attr("d", d3.line()([[48, 16], [57, 18], [66, 21], [53, 22]]) + "Z").attr("fill", logoBlue);
logo.append("circle").attr("cx", 31).attr("cy", 27).attr("r", 3).attr("fill", logoBlue);
logo.append("circle").attr("cx", 24).attr("cy", 28).attr("r", 1).attr("fill", logoBlue);
logo.append("text").attr("x", 21).attr("y", 52).attr("font-family", "Liberation Serif").attr("font-style", "italic")
    .style("font-family", "Liberation Serif").attr("font-size", 22).attr("fill", "#d62728").text("IEM");
</script>
</body>
</html>
